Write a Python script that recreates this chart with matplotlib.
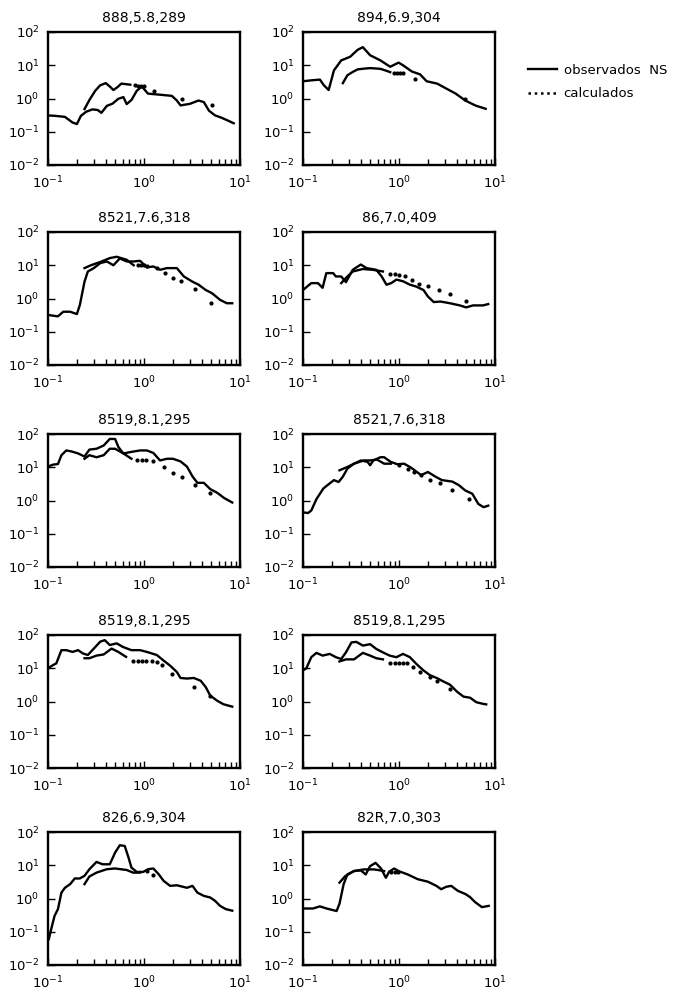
import numpy as np
import matplotlib
matplotlib.use('Agg')
import matplotlib.pyplot as plt
from matplotlib.lines import Line2D
from matplotlib.ticker import LogLocator, NullFormatter

# panel titles (record, magnitude, distance)
titles = ['888,5.8,289', '894,6.9,304', '8521,7.6,318', '86,7.0,409',
          '8519,8.1,295', '8521,7.6,318', '8519,8.1,295', '8519,8.1,295',
          '826,6.9,304', '82R,7.0,303']

p1_obs_f = [0.10, 0.12, 0.15, 0.18, 0.20, 0.22, 0.25, 0.29, 0.33, 0.36, 0.41, 0.47, 0.54, 0.61,
            0.66, 0.74, 0.84, 0.95, 1.1, 1.47, 1.95, 2.2, 2.4, 3.0, 3.7, 4.2, 4.75, 5.5, 6.3, 7.4, 8.6]
p1_obs_a = [0.31, 0.30, 0.28, 0.19, 0.17, 0.30, 0.40, 0.47, 0.45, 0.37, 0.60, 0.70, 0.98, 1.1,
            0.68, 0.90, 1.7, 2.3, 1.4, 1.3, 1.2, 0.87, 0.62, 0.69, 0.87, 0.78, 0.43, 0.31, 0.27, 0.22, 0.18]
p1_calc_f = [0.24, 0.27, 0.31, 0.35, 0.40, 0.44, 0.48, 0.53, 0.58, 0.65, 0.72,
             0.80, 0.87, 0.94, 1.0, 1.26, 2.5, 5.1]
p1_calc_a = [0.48, 0.9, 1.7, 2.5, 2.9, 2.3, 1.8, 2.2, 2.8, 2.7, 2.6,
             2.5, 2.4, 2.4, 2.3, 1.7, 1.0, 0.64]

p2_obs_f = [0.10, 0.12, 0.15, 0.165, 0.185, 0.21, 0.25, 0.31, 0.37, 0.42, 0.50, 0.64, 0.81,
            0.99, 1.1, 1.36, 1.66, 1.94, 2.5, 3.1, 3.9, 4.9, 6.3, 8.0]
p2_obs_a = [3.3, 3.5, 3.7, 2.5, 1.8, 7.0, 14, 18, 29, 35, 20, 14, 9.0,
            12, 10, 6.5, 5.3, 3.3, 2.8, 2.0, 1.4, 0.87, 0.61, 0.49]
p2_calc_f = [0.26, 0.29, 0.33, 0.37, 0.43, 0.50, 0.57, 0.64, 0.72, 0.81,
             0.88, 0.95, 1.02, 1.1, 1.47, 4.9]
p2_calc_a = [2.9, 5.0, 6.3, 7.5, 7.9, 8.2, 8.0, 7.8, 7.0, 6.2,
             6.0, 5.9, 5.8, 5.8, 3.9, 0.95]

p3_obs_f = [0.10, 0.127, 0.144, 0.17, 0.20, 0.215, 0.24, 0.26, 0.30, 0.35, 0.41, 0.48, 0.56,
            0.66, 0.78, 0.91, 1.07, 1.25, 1.47, 1.73, 2.2, 2.6, 3.2, 3.7, 4.4, 5.1, 6.2, 7.3, 8.3]
p3_obs_a = [0.32, 0.29, 0.40, 0.40, 0.34, 0.65, 3.2, 6.5, 8.2, 11.6, 13, 10, 16,
            13, 13, 13.6, 8.6, 9.2, 7.3, 8.2, 8.2, 4.6, 3.2, 2.6, 1.8, 1.45, 0.91, 0.72, 0.72]
p3_calc_f = [0.24, 0.28, 0.35, 0.44, 0.52, 0.66, 0.78,
             0.86, 0.93, 1.0, 1.07, 1.37, 1.67, 2.0, 2.4, 3.4, 5.0]
p3_calc_a = [8.2, 10, 12.5, 16.4, 18, 14.6, 10,
             10, 10, 10, 9.8, 8.5, 5.8, 4.1, 3.4, 1.9, 0.72]

p4_obs_f = [0.10, 0.122, 0.143, 0.16, 0.175, 0.206, 0.22, 0.25, 0.28, 0.33, 0.40, 0.46, 0.58,
            0.66, 0.74, 0.83, 0.94, 1.1, 1.3, 1.5, 1.8, 2.0, 2.3, 2.7, 3.4, 4.3, 5.0, 5.9, 7.5, 8.5]
p4_obs_a = [1.8, 2.9, 2.9, 2.1, 5.8, 5.8, 4.6, 4.6, 3.1, 7.3, 10.5, 8.2, 7.3,
            4.6, 2.6, 2.9, 3.7, 3.3, 2.6, 2.3, 1.8, 1.15, 0.78, 0.81, 0.72, 0.62, 0.54, 0.62, 0.62, 0.68]
p4_calc_f = [0.25, 0.29, 0.33, 0.42, 0.53, 0.68,
             0.80, 0.90, 1.0, 1.15, 1.35, 1.6, 2.0, 2.6, 3.4, 5.0]
p4_calc_a = [2.9, 4.6, 6.5, 7.7, 7.3, 6.5,
             5.4, 5.4, 5.1, 4.8, 3.7, 2.7, 2.3, 1.8, 1.35, 0.85]

p5_obs_f = [0.10, 0.113, 0.127, 0.138, 0.155, 0.175, 0.206, 0.24, 0.27, 0.32, 0.38, 0.44, 0.50,
            0.54, 0.61, 0.74, 0.91, 1.07, 1.25, 1.47, 1.73, 2.0, 2.4, 2.8, 3.2, 3.6, 4.2, 4.9, 5.8, 6.8, 8.3]
p5_obs_a = [10.5, 12, 12.5, 23, 32, 30, 26, 21, 34, 36, 45, 71, 71,
            41, 26, 29, 32, 32, 27, 16, 18, 18, 15, 10.5, 5.3, 3.4, 3.4, 2.2, 1.7, 1.2, 0.87]
p5_calc_f = [0.24, 0.27, 0.32, 0.38, 0.44, 0.50, 0.61, 0.74,
             0.84, 0.95, 1.05, 1.25, 1.6, 2.0, 2.5, 3.4, 4.9]
p5_calc_a = [18, 23, 20, 23, 36, 36, 26, 18,
             17, 16, 16, 15, 10, 6.5, 5.1, 3.0, 1.7]

p6_obs_f = [0.10, 0.113, 0.122, 0.138, 0.163, 0.18, 0.21, 0.235, 0.26, 0.29, 0.34, 0.40, 0.47,
            0.50, 0.54, 0.64, 0.70, 0.82, 0.96, 1.13, 1.33, 1.7, 2.0, 2.4, 2.8, 3.6, 4.2, 4.9,
            5.8, 6.7, 7.6, 8.5]
p6_obs_a = [0.44, 0.42, 0.50, 1.1, 2.3, 2.9, 4.1, 3.6, 5.2, 9.1, 12.8, 16, 14.5,
            11.5, 16, 20, 20, 14.5, 12.3, 12.8, 9.8, 5.8, 7.2, 5.2, 4.1, 3.7, 2.9, 2.0,
            1.6, 0.79, 0.63, 0.70]
p6_calc_f = [0.24, 0.29, 0.34, 0.43, 0.50, 0.59, 0.70, 0.82,
             1.0, 1.23, 1.45, 1.7, 2.1, 2.7, 3.6, 5.3]
p6_calc_a = [8.1, 10.2, 12.8, 16, 16, 17, 12.8, 12.8,
             11.5, 9.1, 7.2, 5.8, 4.2, 3.3, 2.0, 1.1]

p7_obs_f = [0.10, 0.113, 0.122, 0.138, 0.155, 0.18, 0.206, 0.23, 0.26, 0.30, 0.35, 0.39, 0.44,
            0.52, 0.60, 0.74, 0.91, 1.07, 1.36, 1.6, 1.87, 2.2, 2.4, 2.8, 3.3, 3.9, 4.4, 4.9,
            5.8, 6.7, 8.3]
p7_obs_a = [10, 12.5, 14, 35, 35, 31, 35, 28, 25, 39, 63, 70, 50,
            56, 44, 35, 35, 31, 25, 17, 12, 7.7, 5.1, 4.9, 5.1, 4.2, 2.7, 1.5,
            1.05, 0.83, 0.70]
p7_calc_f = [0.24, 0.27, 0.32, 0.38, 0.46, 0.54, 0.65,
             0.77, 0.86, 0.95, 1.05, 1.2, 1.36, 1.55, 1.95, 3.3, 4.9]
p7_calc_a = [20, 20, 24, 26, 39, 31, 22,
             17, 17, 17, 17, 17, 15.5, 12.3, 6.9, 2.7, 1.5]

p8_obs_f = [0.10, 0.108, 0.122, 0.138, 0.16, 0.19, 0.22, 0.25, 0.28, 0.32, 0.36, 0.42, 0.50,
            0.58, 0.68, 0.80, 0.94, 1.1, 1.3, 1.52, 1.79, 2.1, 2.5, 2.9, 3.4, 4.0, 4.7, 5.5,
            6.4, 7.5, 8.1]
p8_obs_a = [8.7, 9.8, 21.5, 29, 24, 27, 21.5, 19, 30, 60, 62, 48, 53,
            38, 30, 24, 21.5, 27, 21.5, 13.4, 8.7, 6.2, 5.0, 4.0, 3.2, 2.0, 1.4, 1.3,
            0.95, 0.85, 0.82]
p8_calc_f = [0.24, 0.28, 0.34, 0.42, 0.50, 0.58, 0.68,
             0.80, 0.90, 1.0, 1.1, 1.2, 1.4, 1.65, 2.1, 2.5, 3.4]
p8_calc_a = [16, 18.5, 18.5, 29, 24, 20, 18.5,
             14, 14, 14, 14, 14, 11, 7.8, 5.6, 4.1, 2.4]

p9_obs_f = [0.102, 0.108, 0.117, 0.127, 0.138, 0.15, 0.17, 0.19, 0.214, 0.24, 0.27, 0.32, 0.37,
            0.44, 0.50, 0.56, 0.63, 0.69, 0.74, 0.84, 0.98, 1.1, 1.25, 1.42, 1.6, 1.87, 2.2,
            2.8, 3.2, 3.6, 4.2, 4.9, 5.5, 6.2, 7.1, 8.3]
p9_obs_a = [0.06, 0.12, 0.30, 0.48, 1.5, 2.1, 2.7, 4.0, 4.0, 4.8, 7.6, 12.6, 10.7,
            10.7, 24, 40, 38, 17, 8.5, 6.3, 6.3, 7.6, 8.0, 5.4, 3.4, 2.4, 2.5,
            2.1, 2.4, 1.5, 1.2, 1.07, 0.85, 0.60, 0.48, 0.43]
p9_calc_f = [0.24, 0.27, 0.32, 0.41, 0.50, 0.66, 0.77, 0.91,
             1.07, 1.25]
p9_calc_a = [2.7, 4.6, 6.0, 7.6, 8.0, 7.2, 6.0, 6.0,
             6.8, 5.0]

p10_obs_f = [0.10, 0.127, 0.15, 0.176, 0.224, 0.24, 0.265, 0.29, 0.34, 0.40, 0.45, 0.50, 0.57,
             0.65, 0.73, 0.79, 0.89, 1.0, 1.23, 1.57, 2.0, 2.45, 2.75, 3.1, 3.5, 4.1, 4.9,
             5.5, 6.2, 7.3, 8.6]
p10_obs_a = [0.50, 0.50, 0.58, 0.50, 0.42, 0.70, 2.7, 5.3, 6.7, 7.0, 5.3, 9.4, 11.8,
             8.0, 4.2, 6.4, 8.0, 6.6, 5.3, 3.8, 3.2, 2.4, 1.9, 2.25, 2.4, 1.7, 1.37,
             1.1, 0.78, 0.55, 0.60]
p10_calc_f = [0.24, 0.275, 0.34, 0.43, 0.55, 0.70,
              0.82, 0.90, 0.97]
p10_calc_a = [3.0, 4.7, 6.7, 7.5, 7.5, 6.7,
              6.4, 6.4, 6.4]

obs_f = [p1_obs_f, p2_obs_f, p3_obs_f, p4_obs_f, p5_obs_f,
         p6_obs_f, p7_obs_f, p8_obs_f, p9_obs_f, p10_obs_f]
obs_a = [p1_obs_a, p2_obs_a, p3_obs_a, p4_obs_a, p5_obs_a,
         p6_obs_a, p7_obs_a, p8_obs_a, p9_obs_a, p10_obs_a]
calc_f = [p1_calc_f, p2_calc_f, p3_calc_f, p4_calc_f, p5_calc_f,
          p6_calc_f, p7_calc_f, p8_calc_f, p9_calc_f, p10_calc_f]
calc_a = [p1_calc_a, p2_calc_a, p3_calc_a, p4_calc_a, p5_calc_a,
          p6_calc_a, p7_calc_a, p8_calc_a, p9_calc_a, p10_calc_a]

# number of leading calculated points drawn as a continuous line (rest are dots)
n_solid = [11, 10, 7, 6, 8, 8, 7, 7, 8, 6]

fig = plt.figure(figsize=(6.78, 9.94), dpi=100)

W, H = 678.0, 994.0
col_left = [48, 303]
row_top = [32, 232, 434, 635, 832]
ax_w, ax_h = 192, 133

for i in range(10):
    r, c = divmod(i, 2)
    x0 = col_left[c] / W
    y0 = 1 - (row_top[r] + ax_h) / H
    ax = fig.add_axes([x0, y0, ax_w / W, ax_h / H])
    ax.set_xscale('log')
    ax.set_yscale('log')
    ax.set_xlim(0.1, 10)
    ax.set_ylim(0.01, 100)

    ax.plot(obs_f[i], obs_a[i], color='black', lw=1.7)
    k = n_solid[i]
    ax.plot(calc_f[i][:k], calc_a[i][:k], color='black', lw=1.7)
    ax.plot(calc_f[i][k:], calc_a[i][k:], 'o', color='black', ms=2.0, lw=0)

    ax.set_title(titles[i], fontsize=10, pad=7)
    for sp in ax.spines.values():
        sp.set_linewidth(1.7)

    ax.xaxis.set_major_locator(LogLocator(base=10, numticks=5))
    ax.xaxis.set_minor_locator(LogLocator(base=10, subs=np.arange(2, 10), numticks=20))
    ax.xaxis.set_minor_formatter(NullFormatter())
    ax.yaxis.set_major_locator(LogLocator(base=10, numticks=10))
    ax.yaxis.set_minor_locator(LogLocator(base=10, subs=[], numticks=10))
    ax.tick_params(which='both', direction='in', top=False, right=False,
                   labelsize=9.5, width=1.0)
    ax.tick_params(which='major', length=5, pad=6)
    ax.tick_params(axis='x', which='major', pad=7)
    ax.tick_params(which='minor', length=4)

handles = [Line2D([], [], color='black', lw=1.7),
           Line2D([], [], color='black', lw=1.8, ls=(0, (1, 1.5)))]
fig.legend(handles, ['observados  NS', 'calculados'], loc='upper left',
           bbox_to_anchor=(516 / W, 1 - 52 / H), frameon=False, fontsize=9.5,
           handlelength=2.2, handletextpad=0.5, labelspacing=0.8)

fig.savefig('out.png', dpi=100)
